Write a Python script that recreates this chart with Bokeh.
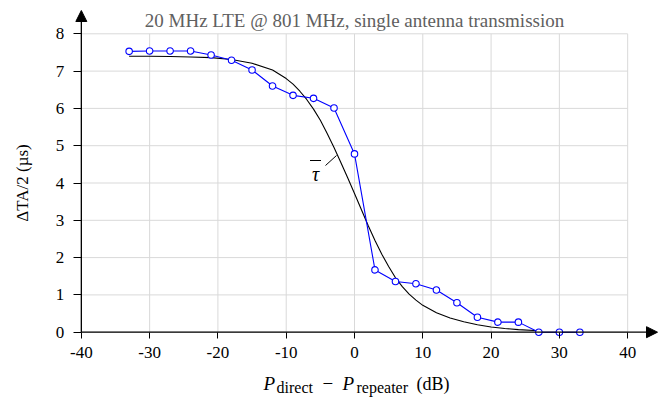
import math
from bokeh.plotting import figure
from bokeh.models import (Range1d, LinearAxis, FixedTicker, Label, Arrow, NormalHead)
from bokeh.embed import file_html
from bokeh.resources import INLINE

# ---------------- data ----------------
TITLE = "20 MHz LTE @ 801 MHz, single antenna transmission"
Y_LABEL = "ΔTA/2 (µs)"
X_TICKS = [-40, -30, -20, -10, 0, 10, 20, 30, 40]
Y_TICKS = [0, 1, 2, 3, 4, 5, 6, 7, 8]

# measured points (blue)
X_MEAS = [-33, -30, -27, -24, -21, -18, -15, -12, -9, -6, -3, 0,
          3, 6, 9, 12, 15, 18, 21, 24, 27, 30, 33]
Y_MEAS = [7.53, 7.54, 7.54, 7.54, 7.43, 7.29, 7.03, 6.60, 6.35, 6.27, 6.01, 4.78,
          1.67, 1.36, 1.30, 1.13, 0.79, 0.40, 0.27, 0.27, 0.0, 0.0, 0.0]

# mean curve tau-bar (black)
X_MEAN = [-33, -30, -27, -24, -21, -18, -15, -12, -10, -9, -8, -7, -6, -5, -4, -3,
          -2, -1, 0, 1, 2, 3, 4, 5, 6, 7, 8, 9, 10, 12, 14, 16, 18, 20, 22, 24, 27]
Y_MEAN = [7.40, 7.40, 7.39, 7.38, 7.36, 7.31, 7.21, 7.03, 6.80, 6.65, 6.46, 6.24,
          5.98, 5.68, 5.33, 4.95, 4.55, 4.14, 3.72, 3.29, 2.86, 2.46, 2.09, 1.76,
          1.46, 1.22, 1.02, 0.86, 0.72, 0.52, 0.38, 0.28, 0.20, 0.14, 0.10, 0.07, 0.04]

# ---------------- layout ----------------
W, H = 670, 398
PX_X = 6.829          # px per dB
PX_Y = 37.3           # px per unit
X0 = 354.0            # canvas x of dB = 0
Y0 = 331.7            # canvas y of value 0
x_start = -X0 / PX_X
x_end = (W - X0) / PX_X
y_end = Y0 / PX_Y
y_start = -(H - Y0) / PX_Y

def xdat(cx):
    return (cx - X0) / PX_X

def ydat(cy):
    return (Y0 - cy) / PX_Y

FONT = "Liberation Serif"

p = figure(width=W, height=H, x_range=Range1d(x_start, x_end), y_range=Range1d(y_start, y_end),
           output_backend="svg", toolbar_location=None, x_axis_type=None, y_axis_type=None,
           min_border=0, outline_line_color=None, background_fill_color="white",
           border_fill_color="white")

# grid
ymin, ymax = min(Y_TICKS), max(Y_TICKS)
xmin, xmax = min(X_TICKS), max(X_TICKS)
gcol = "#d9d9d9"
p.segment(x0=X_TICKS, y0=[ymin] * len(X_TICKS), x1=X_TICKS, y1=[ymax] * len(X_TICKS),
          line_color=gcol, line_width=1)
p.segment(x0=[xmin] * len(Y_TICKS), y0=Y_TICKS, x1=[xmax] * len(Y_TICKS), y1=Y_TICKS,
          line_color=gcol, line_width=1)

# axes
xaxis = LinearAxis(fixed_location=0, bounds=(xmin, xmax), ticker=FixedTicker(ticks=X_TICKS),
                   axis_line_color=None, major_tick_out=6, major_tick_in=0,
                   minor_tick_out=0, minor_tick_in=0, major_tick_line_color="black",
                   major_label_text_font=FONT, major_label_text_font_size="17px",
                   major_label_text_color="black", major_label_standoff=9,
                   major_label_overrides={t: str(t) for t in X_TICKS})
p.add_layout(xaxis, "below")
yaxis = LinearAxis(fixed_location=xmin, bounds=(ymin, ymax), ticker=FixedTicker(ticks=Y_TICKS),
                   axis_line_color=None, major_tick_out=8, major_tick_in=0,
                   minor_tick_out=0, minor_tick_in=0, major_tick_line_color="black",
                   major_label_text_font=FONT, major_label_text_font_size="17px",
                   major_label_text_color="black", major_label_standoff=9,
                   major_label_overrides={t: str(t) for t in Y_TICKS})
p.add_layout(yaxis, "left")

# axis lines with arrow heads
p.add_layout(Arrow(end=NormalHead(size=11, fill_color="black", line_color="black"),
                   x_start=xmin, y_start=0, x_end=xdat(657), y_end=0,
                   line_color="black", line_width=1.3))
p.add_layout(Arrow(end=NormalHead(size=11, fill_color="black", line_color="black"),
                   x_start=xmin, y_start=0, x_end=xmin, y_end=ydat(10),
                   line_color="black", line_width=1.3))

# curves
p.line(X_MEAN, Y_MEAN, line_color="black", line_width=1.1)
p.line(X_MEAS, Y_MEAS, line_color="#0000ff", line_width=1.1)
p.scatter(X_MEAS, Y_MEAS, marker="circle", size=6.5, line_color="#0000ff",
          fill_color="white", line_width=1.1)

# tau-bar label with leader line and overline
p.segment(x0=[xdat(325)], y0=[ydat(165)], x1=[xdat(336)], y1=[ydat(155)],
          line_color="black", line_width=1)
p.segment(x0=[xdat(309.5)], y0=[ydat(160)], x1=[xdat(320.5)], y1=[ydat(160)],
          line_color="black", line_width=1.2)
p.add_layout(Label(x=xdat(315), y=ydat(173), text="\u03c4", text_align="center",
                   text_baseline="alphabetic", text_font=FONT, text_font_size="20px",
                   text_font_style="italic", text_color="black"))

# title
p.add_layout(Label(x=0, y=ydat(20), text=TITLE, text_align="center",
                   text_baseline="alphabetic", text_font=FONT, text_font_size="19px",
                   text_color="#606060"))

# y label
p.add_layout(Label(x=xdat(21.5), y=4, text=Y_LABEL, angle=math.pi / 2,
                   text_align="center", text_baseline="middle", text_font=FONT,
                   text_font_size="17px", text_color="black"))

# x label composed of pieces (main + subscripts)
main_y = ydat(383)
sub_y = ydat(387)
pieces = [
    ("P", -91, main_y, "19px", "italic"),
    ("direct", -78, sub_y, "16px", "normal"),
    ("\u2212", -32, main_y, "19px", "normal"),
    ("P", -12, main_y, "19px", "italic"),
    ("repeater", 2, sub_y, "16px", "normal"),
    ("(dB)", 62, main_y, "18px", "normal"),
]
for txt, dx, yy, fs, st in pieces:
    p.add_layout(Label(x=0, y=yy, x_offset=dx, text=txt, text_align="left",
                       text_baseline="alphabetic", text_font=FONT, text_font_size=fs,
                       text_font_style=st, text_color="black"))

open("out.html", "w").write(file_html(p, INLINE))
